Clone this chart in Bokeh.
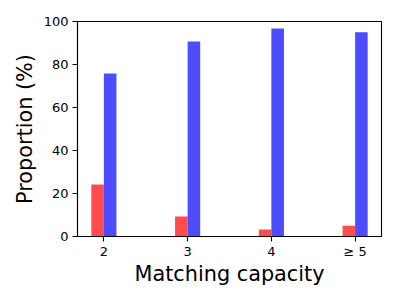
from bokeh.plotting import figure
from bokeh.models import ColumnDataSource, Range1d, FixedTicker
from bokeh.transform import dodge
from bokeh.embed import file_html
from bokeh.resources import INLINE

categories = ["2", "3", "4", "\u2265 5"]
red_values = [24.2, 9.3, 3.2, 5.0]
blue_values = [75.8, 90.7, 96.8, 95.0]
y_ticks = [0, 20, 40, 60, 80, 100]

xpos = list(range(len(categories)))
source = ColumnDataSource(dict(x=xpos, red=red_values, blue=blue_values))

p = figure(frame_width=304, frame_height=215, output_backend="svg", toolbar_location=None,
           x_range=Range1d(-0.315, 3.315), y_range=Range1d(0, 100),
           min_border_left=77, min_border_right=10, min_border_top=21, min_border_bottom=48)

w = 0.15
p.vbar(x=dodge("x", -w / 2), top="red", width=w, bottom=0, source=source,
       fill_color="#ff4d4d", line_color=None)
p.vbar(x=dodge("x", w / 2), top="blue", width=w, bottom=0, source=source,
       fill_color="#4d4dff", line_color=None)

p.xgrid.visible = False
p.ygrid.visible = False
p.outline_line_color = "black"
p.outline_line_width = 1.1
p.background_fill_color = "white"
p.border_fill_color = "white"

p.xaxis.ticker = FixedTicker(ticks=xpos)
p.xaxis.major_label_overrides = {i: c for i, c in zip(xpos, categories)}
p.yaxis.ticker = FixedTicker(ticks=y_ticks)

for ax in (p.xaxis, p.yaxis):
    ax.axis_line_color = "black"
    ax.axis_line_width = 1.1
    ax.major_tick_line_color = "black"
    ax.major_tick_line_width = 1.1
    ax.major_tick_out = 5
    ax.major_tick_in = 0
    ax.minor_tick_line_color = None
    ax.major_label_text_font = "DejaVu Sans"
    ax.major_label_text_font_size = "13px"
    ax.major_label_text_color = "black"
    ax.axis_label_text_font = "DejaVu Sans"
    ax.axis_label_text_font_size = "20.8px"
    ax.axis_label_text_font_style = "normal"
    ax.axis_label_text_color = "black"

p.xaxis.axis_label = "Matching capacity"
p.yaxis.axis_label = "Proportion (%)"
p.xaxis.major_label_standoff = 2
p.yaxis.major_label_standoff = 4
p.xaxis.axis_label_standoff = 0
p.yaxis.axis_label_standoff = 4

open("out.html", "w").write(file_html(p, INLINE))
